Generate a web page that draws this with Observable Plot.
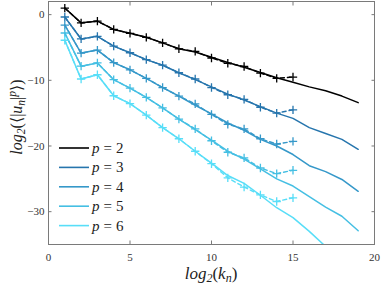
<!DOCTYPE html>
<html>
<head>
<meta charset="utf-8">
<script src="https://cdn.jsdelivr.net/npm/d3@7"></script>
<script src="https://cdn.jsdelivr.net/npm/@observablehq/plot@0.6"></script>
<style>
  html, body { margin: 0; padding: 0; background: #fff; }
  #chart svg { display: block; }
  #chart svg text { font-family: "Liberation Serif", "DejaVu Serif", serif; }
</style>
</head>
<body>
<div id="chart"></div>
<script>
// shell index (log2 k_n) for the + markers (data) and solid lines (model)
const kMarkers = [1,2,3,4,5,6,7,8,9,10,11,12,13,14,15];
const kModel   = [1,2,3,4,5,6,7,8,9,10,11,12,13,14,15,16,17,18,19];

const orders = [2, 3, 4, 5, 6];
const colors = ["#000000", "#2675ad", "#3598c9", "#45bfe3", "#58def8"];

// markers (dashed) log2 <|u_n|^p>
const p2Markers = [1.0, -1.25, -1.0, -2.25, -2.85, -3.45, -4.3, -5.2, -5.6, -6.6, -7.4, -7.9, -8.9, -9.7, -9.5];
const p3Markers = [-0.36, -3.7, -3.3, -4.8, -5.8, -6.85, -7.7, -8.85, -9.8, -11.1, -12.2, -12.9, -14.1, -15.0, -14.5];
const p4Markers = [-1.6, -5.85, -5.4, -7.3, -8.4, -9.7, -11.1, -12.4, -13.6, -15.2, -16.7, -17.4, -18.9, -19.7, -19.3];
const p5Markers = [-2.8, -7.85, -7.35, -9.9, -11.2, -12.6, -14.2, -15.9, -17.4, -19.2, -20.95, -21.8, -23.35, -24.2, -23.7];
const p6Markers = [-3.9, -9.8, -9.15, -12.35, -13.55, -15.3, -17.2, -18.9, -20.8, -22.7, -24.85, -26.25, -27.45, -28.45, -27.9];

// solid lines
const p2Model = [1.0, -1.25, -1.0, -2.25, -2.85, -3.45, -4.3, -5.2, -5.7, -6.5, -7.3, -8.0, -8.8, -9.6, -10.3, -11.0, -11.6, -12.4, -13.4];
const p3Model = [-0.36, -3.7, -3.3, -4.8, -5.8, -6.85, -7.7, -8.85, -9.9, -11.0, -12.1, -13.0, -14.0, -15.0, -15.8, -17.2, -18.1, -19.0, -20.5];
const p4Model = [-1.6, -5.85, -5.4, -7.3, -8.4, -9.7, -11.1, -12.4, -13.8, -15.1, -16.5, -17.6, -19.0, -20.0, -21.3, -23.0, -23.9, -25.1, -26.9];
const p5Model = [-2.8, -7.85, -7.35, -9.9, -11.2, -12.6, -14.2, -15.9, -17.5, -19.1, -20.8, -22.0, -23.5, -25.0, -26.1, -27.7, -29.3, -30.7, -32.9];
const p6Model = [-3.9, -9.8, -9.15, -12.35, -13.55, -15.3, -17.2, -18.9, -20.8, -22.6, -24.5, -25.7, -27.5, -29.4, -30.9, -33.0, -35.3];

const xTicks = [0, 5, 10, 15, 20];
const yTicks = [-30, -20, -10, 0];

const markerSets = [p2Markers, p3Markers, p4Markers, p5Markers, p6Markers];
const modelSets  = [p2Model, p3Model, p4Model, p5Model, p6Model];

const markerRows = [];
markerSets.forEach((vals, i) => vals.forEach((v, j) => markerRows.push({p: orders[i], k: kMarkers[j], v})));
const modelRows = [];
modelSets.forEach((vals, i) => vals.forEach((v, j) => modelRows.push({p: orders[i], k: kModel[j], v})));

const serif = "Liberation Serif";
const frameColor = "#7a7a7a";
const textColor = "#333333";

const marks = [];
orders.forEach((p, i) => {
  const c = colors[i];
  marks.push(Plot.line(modelRows.filter(d => d.p === p), {x: "k", y: "v", stroke: c, strokeWidth: 1.5, clip: true}));
  marks.push(Plot.line(markerRows.filter(d => d.p === p), {x: "k", y: "v", stroke: c, strokeWidth: 1.4, strokeDasharray: "4,3", clip: true}));
  marks.push(Plot.dot(markerRows.filter(d => d.p === p), {x: "k", y: "v", stroke: c, symbol: "plus", r: 2.8, strokeWidth: 1.3, clip: true}));
});

const chart = Plot.plot({
  width: 381,
  height: 290,
  marginLeft: 48,
  marginRight: 7,
  marginTop: 1,
  marginBottom: 46,
  style: {fontFamily: serif, fontSize: "11px", background: "#fff", color: textColor},
  x: {domain: [0, 20]},
  y: {domain: [-35, 2]},
  marks: [
    ...marks,
    Plot.frame({stroke: frameColor, strokeWidth: 1}),
    Plot.axisX({ticks: xTicks, anchor: "bottom", tickSize: -3.5, text: null, label: null, stroke: frameColor}),
    Plot.axisX({ticks: xTicks, anchor: "top", tickSize: -3.5, text: null, label: null, stroke: frameColor}),
    Plot.axisY({ticks: yTicks, anchor: "left", tickSize: -3.5, text: null, label: null, stroke: frameColor}),
    Plot.axisY({ticks: yTicks, anchor: "right", tickSize: -3.5, text: null, label: null, stroke: frameColor}),
    Plot.axisX({ticks: xTicks, anchor: "bottom", tickSize: 0, tickPadding: 9, label: null, fill: textColor}),
    Plot.axisY({ticks: yTicks, anchor: "left", tickSize: 0, tickPadding: 4, label: null, fill: textColor})
  ]
});

document.getElementById("chart").appendChild(chart);

const svg = d3.select(chart);

// y label: log2(<|u_n|^p>)
const yl = svg.append("g").attr("transform", "translate(22,117) rotate(-90)");
const ylT = yl.append("text")
  .attr("font-family", serif).attr("font-size", 16).attr("fill", "#222").attr("text-anchor", "middle");
ylT.append("tspan").attr("font-style", "italic").text("log");
ylT.append("tspan").attr("font-style", "italic").attr("font-size", 11.5).attr("dy", 3).text("2");
ylT.append("tspan").attr("dy", -3).text("(⟨|");
ylT.append("tspan").attr("font-style", "italic").text("u");
ylT.append("tspan").attr("font-style", "italic").attr("font-size", 11.5).attr("dy", 3).text("n");
ylT.append("tspan").attr("dy", -3).text("|");
ylT.append("tspan").attr("font-style", "italic").attr("font-size", 11.5).attr("dy", -6).text("p");
ylT.append("tspan").attr("dy", 6).text("⟩)");

// x label: log2(k_n)
const xlT = svg.append("text")
  .attr("x", 211).attr("y", 279)
  .attr("font-family", serif).attr("font-size", 17).attr("fill", "#222").attr("text-anchor", "middle");
xlT.append("tspan").attr("font-style", "italic").text("log");
xlT.append("tspan").attr("font-style", "italic").attr("font-size", 12).attr("dy", 3).text("2");
xlT.append("tspan").attr("dy", -3).text("(");
xlT.append("tspan").attr("font-style", "italic").text("k");
xlT.append("tspan").attr("font-style", "italic").attr("font-size", 12).attr("dy", 3).text("n");
xlT.append("tspan").attr("dy", -3).text(")");

// legend
const lg = svg.append("g");
orders.forEach((p, i) => {
  const y = 148 + i * 19.4;
  lg.append("line").attr("x1", 59).attr("x2", 89).attr("y1", y).attr("y2", y)
    .attr("stroke", colors[i]).attr("stroke-width", 1.6);
  const t = lg.append("text").attr("x", 92).attr("y", y + 5).attr("text-anchor", "start")
    .attr("font-family", serif).attr("font-size", 15).attr("fill", "#222");
  t.append("tspan").attr("font-style", "italic").text("p");
  t.append("tspan").attr("dx", 4).text("=");
  t.append("tspan").attr("dx", 4).text(String(p));
});
</script>
</body>
</html>
